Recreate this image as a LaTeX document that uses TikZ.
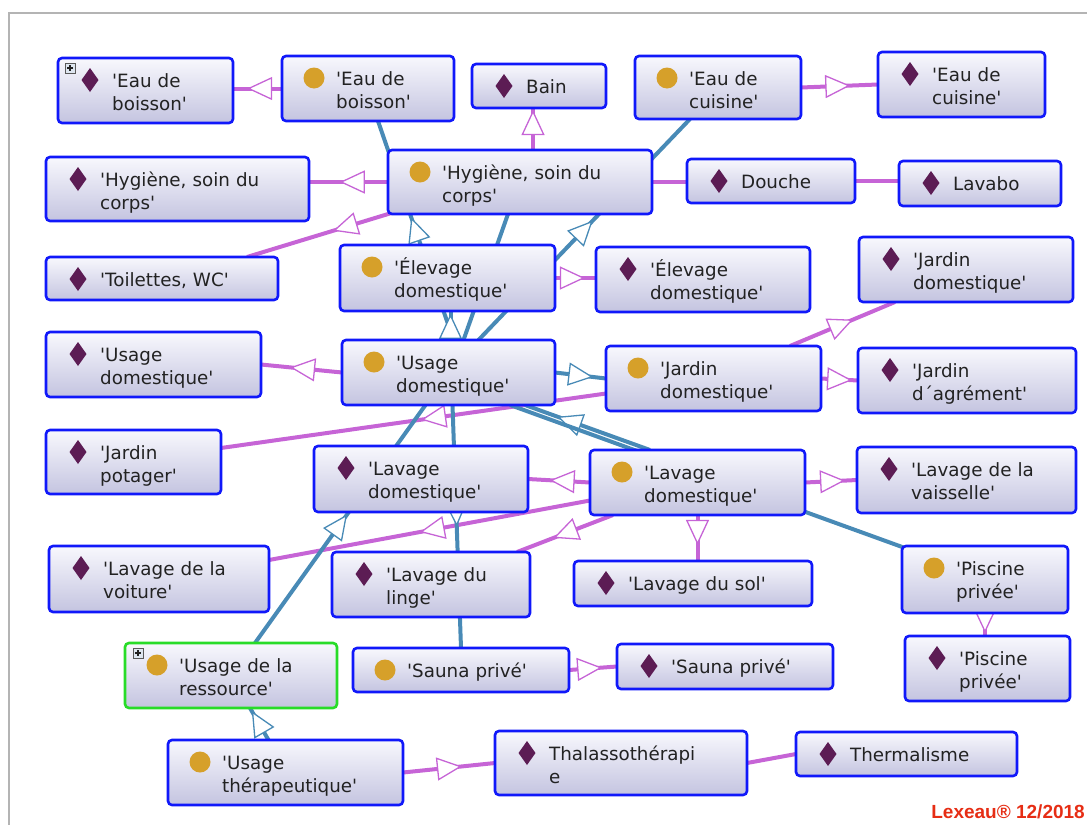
\documentclass[tikz,border=0pt]{standalone}
\usepackage{fontspec}
\newfontfamily\boxfont{DejaVu Sans}[Ligatures=TeXOff]
\newfontfamily\creditfont{Liberation Sans}
\usetikzlibrary{arrows.meta,decorations.markings}
\pgfdeclarelayer{background}
\pgfsetlayers{background,main}

\definecolor{boxblue}{RGB}{16,24,250}
\definecolor{rootgreen}{RGB}{40,220,40}
\definecolor{boxtop}{RGB}{248,248,253}
\definecolor{boxbot}{RGB}{196,196,224}
\definecolor{goldc}{RGB}{214,160,42}
\definecolor{diamc}{RGB}{92,28,84}
\definecolor{linkpink}{RGB}{198,100,214}
\definecolor{linkblue}{RGB}{72,138,182}
\definecolor{textc}{RGB}{34,34,34}
\definecolor{framegray}{RGB}{180,180,180}
\definecolor{creditred}{RGB}{230,45,20}
\definecolor{plusfill}{RGB}{222,230,240}

\tikzset{
  boxbase/.style={rectangle, draw=boxblue, line width=2.6pt, rounded corners=4pt,
    top color=boxtop, bottom color=boxbot, inner sep=0pt, outer sep=0pt},
  clsbox/.style={boxbase, path picture={\fill[goldc]
      ([shift={(32,22)}]path picture bounding box.north west) circle[radius=10.5];}},
  indbox/.style={boxbase, path picture={\fill[diamc, sharp corners]
      ([shift={(32,22)}]path picture bounding box.north west)
      ++(0,-12) -- ++(8.5,12) -- ++(-8.5,12) -- ++(-8.5,-12) -- cycle;}},
  lbl/.style={anchor=base west, inner sep=0pt, align=left, text=textc,
    font=\boxfont\fontsize{18.3}{23}\selectfont},
  inst/.style={draw=linkpink, line width=4pt},
  isa/.style={draw=linkblue, line width=4pt},
  tipat/.style 2 args={postaction={decorate, decoration={markings,
      mark=at position #1 with {\arrow{Triangle[length=25pt, width=23pt,
        line width=1.3pt, color=#2, fill=white]}}}}},
  plusmark/.pic={
    \draw[draw=gray!70!black, fill=plusfill, line width=0.6pt] (0,0) rectangle (10,10);
    \draw[textc, line width=1.2pt] (2,5) -- (8,5) (5,2) -- (5,8);
  },
}

% box node with its icon, plus its text set beside the icon
\newcommand\ontobox[7]{%
  \node[#2, minimum width=#5, minimum height=#6, anchor=north west] (#1) at (#3,#4) {};
  \pgfmathsetmacro\ontotw{#5-58}%
  \node[lbl, text width=\ontotw pt] (#1-t) at ([shift={(54,29)}]#1.north west) {#7};
}

\begin{document}
\begin{tikzpicture}[x=1pt, y=-1pt]
\useasboundingbox (0,0) rectangle (1087,825);

% classes (circle) and individuals (diamond)
\ontobox{ebI}{indbox}{58}{58}{175}{65}{'Eau de\\boisson'}
\ontobox{ebC}{clsbox}{282}{56}{172}{65}{'Eau de\\boisson'}
\ontobox{bain}{indbox}{472}{64}{134}{44}{Bain}
\ontobox{ecC}{clsbox}{635}{56}{166}{63}{'Eau de\\cuisine'}
\ontobox{ecI}{indbox}{878}{52}{167}{65}{'Eau de\\cuisine'}
\ontobox{hyI}{indbox}{46}{157}{263}{64}{'Hygiène, soin du\\corps'}
\ontobox{hyC}{clsbox}{388}{150}{264}{64}{'Hygiène, soin du\\corps'}
\ontobox{douche}{indbox}{687}{159}{168}{44}{Douche}
\ontobox{lavabo}{indbox}{899}{161}{162}{45}{Lavabo}
\ontobox{wc}{indbox}{46}{257}{232}{43}{'Toilettes, WC'}
\ontobox{elC}{clsbox}{340}{245}{215}{66}{'Élevage\\domestique'}
\ontobox{elI}{indbox}{596}{247}{214}{65}{'Élevage\\domestique'}
\ontobox{jdI}{indbox}{859}{237}{214}{65}{'Jardin\\domestique'}
\ontobox{udI}{indbox}{46}{332}{215}{65}{'Usage\\domestique'}
\ontobox{udC}{clsbox}{342}{340}{213}{65}{'Usage\\domestique'}
\ontobox{jdC}{clsbox}{606}{346}{215}{65}{'Jardin\\domestique'}
\ontobox{jaI}{indbox}{858}{348}{218}{65}{'Jardin\\d´agrément'}
\ontobox{jpI}{indbox}{46}{430}{175}{64}{'Jardin\\potager'}
\ontobox{ldI}{indbox}{314}{446}{214}{66}{'Lavage\\domestique'}
\ontobox{ldC}{clsbox}{590}{450}{215}{65}{'Lavage\\domestique'}
\ontobox{lvI}{indbox}{857}{447}{219}{66}{'Lavage de la\\vaisselle'}
\ontobox{lvoI}{indbox}{49}{546}{220}{66}{'Lavage de la\\voiture'}
\ontobox{llI}{indbox}{332}{552}{198}{65}{'Lavage du\\linge'}
\ontobox{lsI}{indbox}{574}{561}{238}{45}{'Lavage du sol'}
\ontobox{piC}{clsbox}{902}{546}{166}{67}{'Piscine\\privée'}
\ontobox{piI}{indbox}{905}{636}{165}{65}{'Piscine\\privée'}
\ontobox{urC}{clsbox, draw=rootgreen}{125}{643}{212}{65}{'Usage de la\\ressource'}
\ontobox{saC}{clsbox}{353}{648}{216}{44}{'Sauna privé'}
\ontobox{saI}{indbox}{617}{644}{216}{45}{'Sauna privé'}
\ontobox{utC}{clsbox}{168}{740}{235}{65}{'Usage\\thérapeutique'}
\ontobox{thal}{indbox}{495}{731}{252}{64}{Thalassothérapi\\e}
\ontobox{therm}{indbox}{796}{732}{221}{44}{Thermalisme}

% expand markers
\pic at ([shift={(7,5)}]ebI.north west) {plusmark};
\pic at ([shift={(8,5)}]urC.north west) {plusmark};

\node[font=\creditfont\bfseries\fontsize{19}{20}\selectfont, text=creditred,
  anchor=base east, inner sep=0pt] (credit) at (1085,818) {Lexeau® 12/2018};

\begin{pgfonlayer}{background}
  % window frame
  \draw[framegray, line width=2.5pt] (1087,13) -- (9,13) -- (9,825);

  % instance links
  \draw[inst, tipat={0.71}{linkpink}] (ebC.west) -- (ebI.east |- ebC.west);
  \draw[inst, tipat={0.61}{linkpink}] (hyC.west) -- (hyI.east |- hyC.west);
  \draw[inst, tipat={0.95}{linkpink}] ([shift={(-6,0)}]bain.south |- hyC.north) -- ([shift={(-6,0)}]bain.south);
  \draw[inst] (hyC.east) -- (douche.west |- hyC.east);
  \draw[inst] (douche.east) -- (lavabo.west |- douche.east);
  \draw[inst, tipat={0.64}{linkpink}] (ecC.east) -- (ecI.west);
  \draw[inst, tipat={0.43}{linkpink}] ([shift={(10,-3)}]hyC.south west) -- ([shift={(85,0)}]wc.north);
  \draw[inst, tipat={0.73}{linkpink}] (elC.east) -- (elI.west |- elC.east);
  \draw[inst, tipat={0.64}{linkpink}] (udC.west) -- (udI.east);
  \draw[inst, tipat={0.6}{linkpink}] ([shift={(-31,0)}]jdC.north east) -- ([shift={(36,0)}]jdI.south west);
  \draw[inst, tipat={0.84}{linkpink}] (jdC.east) -- (jaI.west);
  \draw[inst, tipat={0.48}{linkpink}] ([shift={(0,15)}]jdC.west) -- ([shift={(0,-14)}]jpI.east);
  \draw[inst, tipat={0.65}{linkpink}] (ldC.west) -- (ldI.east);
  \draw[inst, tipat={0.77}{linkpink}] (ldC.east) -- (lvI.west);
  \draw[inst, tipat={0.65}{linkpink}] (ldC.south) -- (ldC.south |- lsI.north);
  \draw[inst, tipat={0.53}{linkpink}] ([shift={(0,18)}]ldC.west) -- ([shift={(0,-19)}]lvoI.east);
  \draw[inst, tipat={0.62}{linkpink}] ([shift={(23,0)}]ldC.south west) -- ([shift={(-13,0)}]llI.north east);
  \draw[inst, tipat={0.87}{linkpink}] (piC.south) -- (piC.south |- piI.north);
  \draw[inst, tipat={0.69}{linkpink}] (saC.east) -- (saI.west);
  \draw[inst, tipat={0.64}{linkpink}] (utC.east) -- (thal.west);
  \draw[inst] (thal.east) -- (therm.west);

  % subclass links
  \draw[isa, tipat={0.56}{linkblue}] ([shift={(5,0)}]udC.north) -- ([shift={(10,0)}]ebC.south);
  \draw[isa, tipat={0.54}{linkblue}] ([shift={(30,0)}]udC.north) -- ([shift={(-28,0)}]ecC.south);
  \draw[isa] ([shift={(15,0)}]udC.north) -- ([shift={(-12,0)}]hyC.south);
  \draw[isa, tipat={0.9}{linkblue}] ([shift={(2,0)}]udC.north) -- ([shift={(2,0)}]udC.north |- elC.south);
  \draw[isa, tipat={0.75}{linkblue}] (udC.east) -- (jdC.west);
  \draw[isa, tipat={0.74}{linkblue}] ([shift={(60,0)}]ldC.north west) -- ([shift={(-30,0)}]udC.south east);
  \draw[isa] ([shift={(3,2)}]piC.north west) -- ([shift={(-45,0)}]udC.south east);
  \draw[isa, tipat={0.5}{linkblue}] ([shift={(4,0)}]udC.south) -- (saC.north);
  \draw[isa, tipat={0.54}{linkblue}] ([shift={(24,0)}]urC.north) -- ([shift={(-23,0)}]udC.south);
  \draw[isa, tipat={0.9}{linkblue}] ([shift={(-17,0)}]utC.north) -- ([shift={(19,0)}]urC.south);
\end{pgfonlayer}
\end{tikzpicture}
\end{document}
